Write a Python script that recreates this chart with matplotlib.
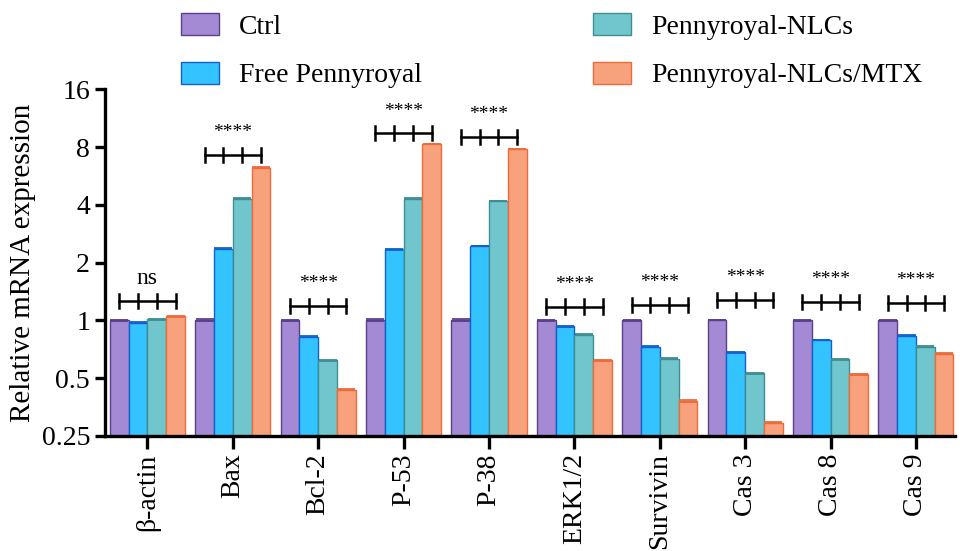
import matplotlib.pyplot as plt
import numpy as np
from matplotlib.patches import Patch

plt.rcParams['font.family'] = ['Liberation Serif', 'DejaVu Serif']

genes = ["β-actin", "Bax", "Bcl-2", "P-53", "P-38", "ERK1/2", "Survivin", "Cas 3", "Cas 8", "Cas 9"]
groups = ["Ctrl", "Free Pennyroyal", "Pennyroyal-NLCs", "Pennyroyal-NLCs/MTX"]

ctrl = [1, 1, 1, 1, 1, 1, 1, 1, 1, 1]
free = [0.97, 2.36, 0.82, 2.34, 2.44, 0.93, 0.73, 0.68, 0.79, 0.83]
nlc = [1.01, 4.31, 0.62, 4.31, 4.20, 0.84, 0.63, 0.53, 0.625, 0.73]
nlc_mtx = [1.05, 6.25, 0.435, 8.26, 7.80, 0.62, 0.38, 0.293, 0.524, 0.67]
err = [0.005, 0.01, 0.004, 0.01, 0.01, 0.004, 0.003, 0.002, 0.004, 0.004]

# significance labels and bracket heights
sig = ["ns", "****", "****", "****", "****", "****", "****", "****", "****", "****"]
bracket_y = [1.26, 7.24, 1.186, 9.42, 9.01, 1.18, 1.206, 1.28, 1.24, 1.23]

colors = ["#a48ad4", "#33c3ff", "#70c6cc", "#f7a27c"]
edges = ["#5a3f8a", "#1560d0", "#3f8e92", "#ee6a3a"]

fig = plt.figure(figsize=(9.6, 5.51), dpi=100)
ax = fig.add_axes([0.109, 0.209, 0.886, 0.629])

x = np.arange(len(genes))
w = 0.22
series = [ctrl, free, nlc, nlc_mtx]
for i, vals in enumerate(series):
    pos = x + (i - 1.5) * w
    ax.bar(pos, np.array(vals) - 0.25, w, bottom=0.25, color=colors[i],
           edgecolor=edges[i], linewidth=1.0, zorder=2)
    ax.errorbar(pos, vals, yerr=err, fmt="none", ecolor=edges[i],
                capsize=6.5, capthick=1.3, elinewidth=1.0, zorder=3)

# brackets
for j in range(len(genes)):
    xs = x[j] + (np.arange(4) - 1.5) * w
    yb = bracket_y[j]
    ax.plot([xs[0], xs[-1]], [yb, yb], color="black", lw=1.8, zorder=4)
    for xx in xs:
        ax.plot([xx, xx], [yb / 1.088, yb * 1.088], color="black", lw=1.8, zorder=4)
    if sig[j] == "ns":
        ax.annotate(sig[j], (x[j], yb), xytext=(0, 9), textcoords="offset points",
                    ha="center", va="bottom", fontsize=17)
    else:
        ax.annotate(sig[j], (x[j], yb), xytext=(0, 10), textcoords="offset points",
                    ha="center", va="bottom", fontsize=14)

ax.set_yscale("log", base=2)
ax.set_ylim(0.25, 16)
ax.set_yticks([0.25, 0.5, 1, 2, 4, 8, 16])
ax.set_yticklabels(["0.25", "0.5", "1", "2", "4", "8", "16"])
ax.minorticks_off()
ax.set_xlim(-0.5, 9.46)
ax.set_xticks(x)
ax.set_xticklabels(genes, rotation=90)
ax.set_ylabel("Relative mRNA expression", fontsize=21)

for s in ["top", "right"]:
    ax.spines[s].set_visible(False)
for s in ["left", "bottom"]:
    ax.spines[s].set_linewidth(2.4)
ax.tick_params(axis="both", labelsize=20, width=2.4, length=7, direction="out")
ax.tick_params(axis="x", length=9)

handles = [Patch(facecolor=colors[i], edgecolor=edges[i], label=groups[i]) for i in range(4)]
leg_kw = dict(loc="upper left", frameon=False, fontsize=20, handlelength=1.37,
              handleheight=0.83, handletextpad=0.72, labelspacing=0.8, borderpad=0,
              borderaxespad=0)
fig.legend(handles=handles[:2], bbox_to_anchor=(180.7 / 960, 1 - 13 / 551), **leg_kw)
fig.legend(handles=handles[2:], bbox_to_anchor=(592.7 / 960, 1 - 13 / 551), **leg_kw)

fig.savefig("out.png", dpi=100)
